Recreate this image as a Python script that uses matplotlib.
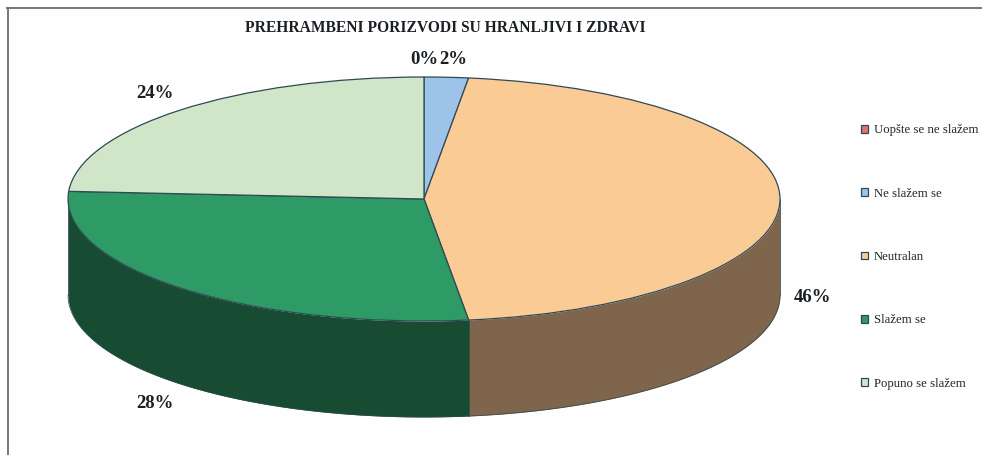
import numpy as np
import matplotlib
matplotlib.use("Agg")
import matplotlib.pyplot as plt
from matplotlib.lines import Line2D

plt.rcParams['font.family'] = ['Liberation Serif', 'DejaVu Serif']

# Data
categories = ["Uopšte se ne slažem", "Ne slažem se", "Neutralan", "Slažem se", "Popuno se slažem"]
values = [0, 2, 46, 28, 24]
top_colors = ["#E2716C", "#9DC3E8", "#FBCB96", "#2E9A66", "#D1E5C8"]
side_colors = ["#7A3A38", "#55708A", "#7F654C", "#174C32", "#76836F"]
title = "PREHRAMBENI PORIZVODI SU HRANLJIVI I ZDRAVI"

W, H = 982, 455
cx, cy, rx, ry, depth = 424, 199, 356, 122, 96
edge = "#2F4A55"

fig = plt.figure(figsize=(W / 100, H / 100), dpi=100, facecolor="white")
ax = fig.add_axes([0, 0, 1, 1])

# Pie is drawn on a unit circle, the axis limits squash it into an ellipse
wedges, _ = ax.pie(values, colors=top_colors, startangle=90, counterclock=False, radius=1,
                   wedgeprops={"edgecolor": edge, "linewidth": 0.9, "zorder": 3})
ax.set_aspect("auto")
ax.set_xlim(-cx / rx, (W - cx) / rx)
ax.set_ylim(-(H - cy) / ry, cy / ry)
ax.axis("off")

# Side wall, only the front half of the ellipse shows
d = depth / ry
bounds = np.cumsum([0] + values) * 3.6
for i in range(len(values)):
    a = max(bounds[i], 90)
    b = min(bounds[i + 1], 270)
    if b <= a:
        continue
    t = np.radians(np.linspace(a, b, 120))
    ax.fill_between(np.sin(t), np.cos(t), np.cos(t) - d, color=side_colors[i],
                    linewidth=0, zorder=1)
    ax.plot(np.sin(t), np.cos(t) - d, color=edge, lw=0.5, zorder=2)
    for x, y in [(np.sin(t[0]), np.cos(t[0])), (np.sin(t[-1]), np.cos(t[-1]))]:
        ax.plot([x, x], [y, y - d], color=edge, lw=0.5, zorder=2)

# Frame
bg = plt.Rectangle((8 / W, 0), 1 - 8 / W, 1 - 8 / H, transform=fig.transFigure,
                   facecolor="#FDFEFD", edgecolor="none", zorder=-5)
fig.add_artist(bg)
ax.patch.set_visible(False)
fig.add_artist(Line2D([7.5 / W, 7.5 / W], [0, 1 - 7.5 / H], color="#777777", lw=1.4))
fig.add_artist(Line2D([7 / W, 1], [1 - 7.5 / H, 1 - 7.5 / H], color="#777777", lw=1.4))

# Title and percent labels, placed in pixel positions
def px_text(x, y, s, **kw):
    fig.text(x / W, 1 - y / H, s, ha="center", va="center", fontweight="bold", color="#1A1F24", **kw)

px_text(445, 28, title, fontsize=11.2)
label_pos = [(424, 59), (453, 60), (812, 298), (155, 404), (155, 93)]
for (x, y), v in zip(label_pos, values):
    px_text(x, y, f"{v}%", fontsize=13.5)

# Legend
leg = ax.legend(wedges, categories, loc="center left", frameon=False,
                bbox_to_anchor=(861 / W, 1 - 257 / H), bbox_transform=fig.transFigure,
                fontsize=9.2, labelspacing=4.02, handlelength=0.57, handleheight=0.57,
                handletextpad=0.42, borderpad=0, borderaxespad=0)
for text in leg.get_texts():
    text.set_color("#20262B")

fig.savefig("out.png", dpi=100)
